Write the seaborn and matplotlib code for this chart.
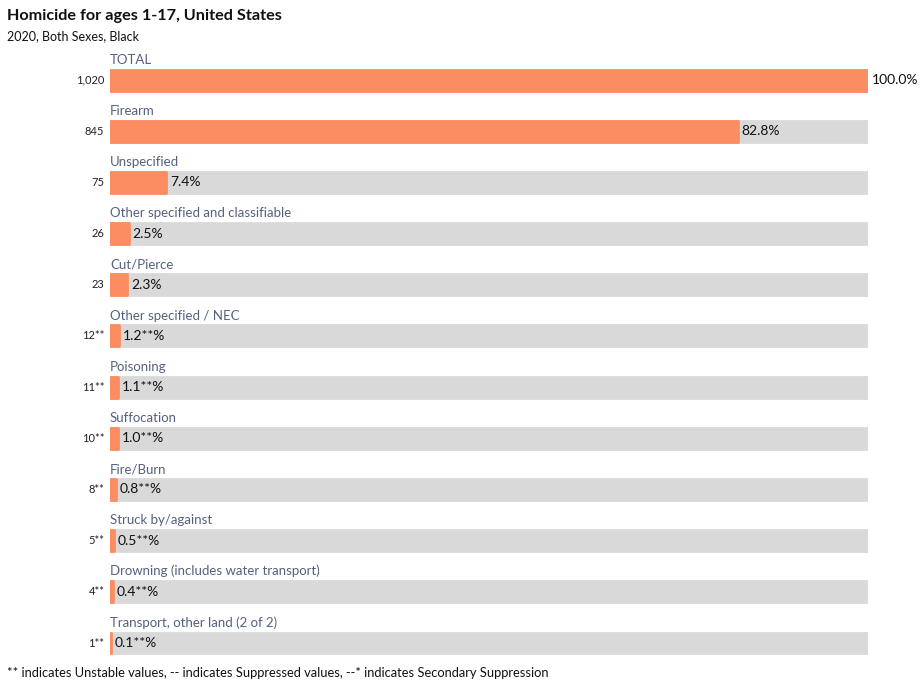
import pandas as pd
import matplotlib.pyplot as plt
import seaborn as sns

causes = ["TOTAL", "Firearm", "Unspecified", "Other specified and classifiable", "Cut/Pierce",
          "Other specified / NEC", "Poisoning", "Suffocation", "Fire/Burn", "Struck by/against",
          "Drowning (includes water transport)", "Transport, other land (2 of 2)"]
deaths = [1020, 845, 75, 26, 23, 12, 11, 10, 8, 5, 4, 1]
percent = [100.0, 82.8, 7.4, 2.5, 2.3, 1.2, 1.1, 1.0, 0.8, 0.5, 0.4, 0.1]
unstable = [False, False, False, False, False, True, True, True, True, True, True, True]

df = pd.DataFrame({"cause": causes, "deaths": deaths, "pct": percent, "unstable": unstable})
df["full"] = 100.0

sns.set_style("white")
plt.rcParams["font.family"] = ["Lato", "DejaVu Sans"]

fig = plt.figure(figsize=(9.23, 6.88), dpi=100)
ax = fig.add_axes([110 / 923, 0.0282, 758 / 923, 0.8927])

sns.barplot(data=df, x="full", y="cause", color="#d9d9d9", width=0.41, saturation=1,
            ax=ax, orient="h")
sns.barplot(data=df, x="pct", y="cause", color="#fc8d62", width=0.41, saturation=1,
            ax=ax, orient="h")
for p in ax.patches:
    p.set_edgecolor(p.get_facecolor())
    p.set_linewidth(2)
    p.set_joinstyle("round")

ax.set_xlim(0, 100)
ax.set_ylim(11.5, -0.5)
ax.axis("off")

for i, row in df.iterrows():
    star = "**" if row["unstable"] else ""
    ax.text(0, i - 0.28, row["cause"], ha="left", va="bottom", fontsize=9.5,
            color="#56617e", clip_on=False)
    ax.text(-0.75, i, f"{row['deaths']:,}{star}", ha="right", va="center", fontsize=8,
            color="#222222", clip_on=False)
    ax.text(row["pct"] + 0.5, i, f"{row['pct']:.1f}{star}%", ha="left", va="center",
            fontsize=10, color="#111111", clip_on=False)

fig.text(7 / 923, 1 - 16 / 688, "Homicide for ages 1-17, United States", fontsize=11.7,
         fontweight="bold", va="center", ha="left", color="#111111")
fig.text(7 / 923, 1 - 36 / 688, "2020, Both Sexes, Black", fontsize=9, va="center",
         ha="left", color="#111111")
fig.text(7 / 923, 1 - 673 / 688,
         "** indicates Unstable values, -- indicates Suppressed values, --* indicates Secondary Suppression",
         fontsize=9.25, va="center", ha="left", color="#111111")

fig.savefig("out.png", dpi=100)
